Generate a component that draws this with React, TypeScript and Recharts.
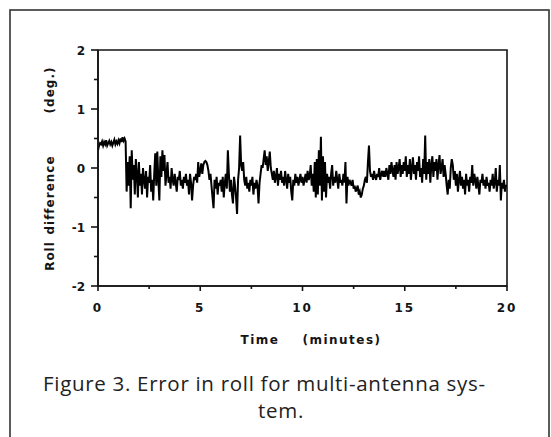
import React from "react";
import { LineChart, Line, XAxis, YAxis, ReferenceArea } from "recharts";

// roll difference (deg.), every 0.05 minutes
const rollDiff = [
  0.3, 0.38, 0.42, 0.4, 0.45, 0.38, 0.44, 0.4, 0.47, 0.38, 0.42, 0.46, 0.4, 0.44, 0.38, 0.43, 0.48, 0.4, 0.45, 0.41,
  0.47, 0.42, 0.5, 0.44, 0.52, 0.46, 0.5, 0.45, -0.4, 0.1, -0.3, 0.2, -0.68, 0.3, -0.2, 0.05, -0.45, 0.15, -0.1, -0.5,
  0.1, -0.3, -0.1, -0.45, 0.0, -0.2, -0.35, -0.05, -0.5, -0.15, -0.25, 0.05, -0.4, -0.2, -0.55, -0.1, 0.25, -0.3, 0.28, -0.2,
  -0.55, 0.2, -0.15, 0.3, -0.05, 0.22, -0.3, -0.1, 0.1, -0.25, -0.15, -0.35, 0.0, -0.2, -0.3, -0.1, -0.25, -0.4, -0.15, -0.2,
  -0.05, -0.3, -0.2, -0.35, -0.15, -0.25, -0.1, -0.3, -0.2, -0.45, -0.1, -0.25, -0.55, -0.3, -0.15, -0.2, -0.1, -0.25, 0.1, -0.15,
  -0.05, 0.08, -0.1, 0.05, 0.1, 0.12, 0.1, 0.05, -0.05, -0.2, -0.1, -0.3, -0.5, -0.68, -0.2, -0.35, -0.15, -0.45, -0.25, -0.3,
  -0.2, -0.4, -0.15, -0.5, -0.25, -0.1, -0.35, 0.3, -0.1, -0.4, -0.2, -0.45, -0.6, -0.15, -0.3, -0.5, -0.78, -0.2, 0.0, 0.55,
  0.05, -0.05, 0.1, -0.2, -0.3, -0.15, -0.35, -0.25, -0.4, -0.2, -0.3, -0.15, -0.45, -0.25, -0.35, -0.2, -0.3, -0.6, -0.25, -0.1,
  0.05, 0.0, 0.15, 0.3, 0.05, 0.2, -0.05, 0.1, 0.28, 0.0, -0.1, -0.2, -0.05, -0.25, -0.15, 0.0, -0.3, -0.1, -0.2, -0.05,
  -0.25, -0.15, -0.3, -0.05, -0.2, -0.35, -0.1, -0.25, -0.15, -0.4, -0.55, -0.2, -0.3, -0.1, -0.25, -0.15, -0.3, -0.2, -0.1, -0.25,
  -0.15, -0.3, -0.2, -0.1, -0.25, -0.05, -0.2, -0.15, 0.05, -0.3, -0.1, -0.4, 0.1, -0.5, 0.15, -0.45, 0.3, -0.3, 0.53, -0.55,
  0.2, -0.4, 0.1, -0.5, -0.1, -0.25, -0.15, -0.35, -0.1, 0.05, -0.3, -0.15, -0.25, -0.05, -0.2, -0.35, -0.1, -0.25, -0.2, -0.3,
  -0.1, -0.25, 0.1, -0.6, -0.15, -0.3, -0.2, -0.25, -0.3, -0.2, -0.35, -0.3, -0.4, -0.35, -0.3, -0.45, -0.4, -0.5, -0.45, -0.35,
  -0.3, -0.2, -0.15, -0.25, 0.1, 0.38, -0.05, -0.15, -0.1, -0.2, -0.05, -0.15, -0.2, -0.1, -0.15, 0.0, -0.2, -0.1, -0.05, -0.15,
  -0.05, -0.15, 0.0, -0.1, -0.2, 0.05, -0.1, 0.1, -0.05, -0.15, 0.05, -0.2, 0.1, -0.1, 0.0, 0.15, -0.15, 0.05, -0.1, 0.1,
  -0.05, 0.2, -0.15, 0.05, -0.1, 0.15, -0.2, 0.0, 0.18, -0.1, 0.05, -0.2, 0.1, -0.05, 0.2, -0.15, 0.0, -0.25, 0.15, -0.1,
  0.55, -0.2, 0.1, -0.1, 0.15, -0.25, 0.05, 0.2, -0.15, 0.1, -0.05, 0.15, -0.2, 0.05, 0.22, -0.1, 0.0, 0.15, -0.15, 0.05,
  -0.1, -0.3, -0.45, -0.2, -0.35, 0.0, 0.15, 0.05, -0.2, -0.05, -0.3, -0.1, -0.4, -0.2, -0.05, -0.3, -0.15, -0.35, -0.2, -0.45,
  -0.1, -0.3, -0.2, -0.4, -0.15, -0.25, 0.05, -0.3, -0.1, -0.2, -0.35, -0.15, -0.3, -0.45, -0.2, -0.25, -0.1, -0.3, -0.2, -0.35,
  -0.15, -0.3, -0.25, -0.4, -0.2, -0.3, -0.1, -0.35, -0.25, 0.0, -0.4, -0.2, -0.3, 0.05, -0.55, -0.25, -0.35, -0.2, -0.4, -0.3, -0.3,
];
const sampleStep = 0.05; // minutes between samples

const xTicks = [0, 2.5, 5, 7.5, 10, 12.5, 15, 17.5, 20];
const yTicks = [-2, -1.5, -1, -0.5, 0, 0.5, 1, 1.5, 2];

const data = rollDiff.map((v, i) => ({ t: +(i * sampleStep).toFixed(2), roll: v }));

const INK = "#141414";
const axisFont = "'DejaVu Sans', sans-serif";
const captionFont = "'Open Sans', 'Liberation Sans', sans-serif";

const XTick = ({ x, y, payload }: any) => {
  const major = payload.value % 5 === 0;
  return (
    <g>
      <line x1={x} x2={x} y1={y} y2={y + (major ? 5 : 3)} stroke={INK} strokeWidth={1.6} />
      {major && (
        <text x={x} y={y + 26} textAnchor="middle" fontFamily={axisFont} fontWeight="bold" fontSize={12} fill={INK} letterSpacing={2}>
          {payload.value}
        </text>
      )}
    </g>
  );
};

const YTick = ({ x, y, payload }: any) => {
  const major = Number.isInteger(payload.value);
  return (
    <g>
      <line x1={x - (major ? 7 : 4)} x2={x} y1={y} y2={y} stroke={INK} strokeWidth={1.6} />
      {major && (
        <text x={x - 13} y={y + 4.5} textAnchor="end" fontFamily={axisFont} fontWeight="bold" fontSize={12} fill={INK}>
          {payload.value}
        </text>
      )}
    </g>
  );
};

export default function App() {
  return (
    <div style={{ position: "absolute", left: 0, top: 0, width: 551, height: 437, background: "#fff", overflow: "hidden" }}>
      <svg width={551} height={437} style={{ position: "absolute", left: 0, top: 0 }}>
        <rect x={10} y={10} width={539} height={440} fill="none" stroke="#333" strokeWidth={1.6} />
        <text transform="translate(50 256) rotate(-90)" textAnchor="middle" dominantBaseline="central" fontFamily={axisFont} fontWeight="bold" fontSize={12} fill={INK} letterSpacing={1}>Roll</text>
        <text transform="translate(50 195) rotate(-90)" textAnchor="middle" dominantBaseline="central" fontFamily={axisFont} fontWeight="bold" fontSize={12} fill={INK} letterSpacing={1}>difference</text>
        <text transform="translate(50 90) rotate(-90)" textAnchor="middle" dominantBaseline="central" fontFamily={axisFont} fontWeight="bold" fontSize={12} fill={INK} letterSpacing={1}>(deg.)</text>
        <text x={260} y={344} textAnchor="middle" fontFamily={axisFont} fontWeight="bold" fontSize={12} fill={INK} letterSpacing={1.5}>Time</text>
        <text x={342} y={344} textAnchor="middle" fontFamily={axisFont} fontWeight="bold" fontSize={12} fill={INK} letterSpacing={1.5}>(minutes)</text>
        <text x={43} y={391} fontFamily={captionFont} fontSize={20.5} fill="#222" letterSpacing={0.7}>
          Figure 3. Error in roll for multi-antenna sys-
        </text>
        <text x={281} y={418} textAnchor="middle" fontFamily={captionFont} fontSize={20.5} fill="#222" letterSpacing={0.7}>
          tem.
        </text>
      </svg>
      <div style={{ position: "absolute", left: 0, top: 0 }}>
        <LineChart width={551} height={437} data={data} margin={{ top: 50, right: 44, bottom: 121, left: 58 }}>
          <XAxis
            dataKey="t"
            type="number"
            domain={[0, 20]}
            ticks={xTicks}
            interval={0}
            height={30}
            tickSize={0}
            tickMargin={0}
            tickLine={false}
            axisLine={{ stroke: INK, strokeWidth: 1.6 }}
            tick={<XTick />}
          />
          <YAxis
            type="number"
            domain={[-2, 2]}
            ticks={yTicks}
            interval={0}
            width={40}
            tickSize={0}
            tickMargin={0}
            tickLine={false}
            axisLine={{ stroke: INK, strokeWidth: 1.6 }}
            tick={<YTick />}
          />
          <ReferenceArea x1={0} x2={20} y1={-2} y2={2} fill="none" fillOpacity={0} stroke={INK} strokeWidth={1.6} ifOverflow="visible" />
          <Line
            dataKey="roll"
            type="linear"
            stroke="#000"
            strokeWidth={2}
            dot={false}
            isAnimationActive={false}
          />
        </LineChart>
      </div>
    </div>
  );
}
